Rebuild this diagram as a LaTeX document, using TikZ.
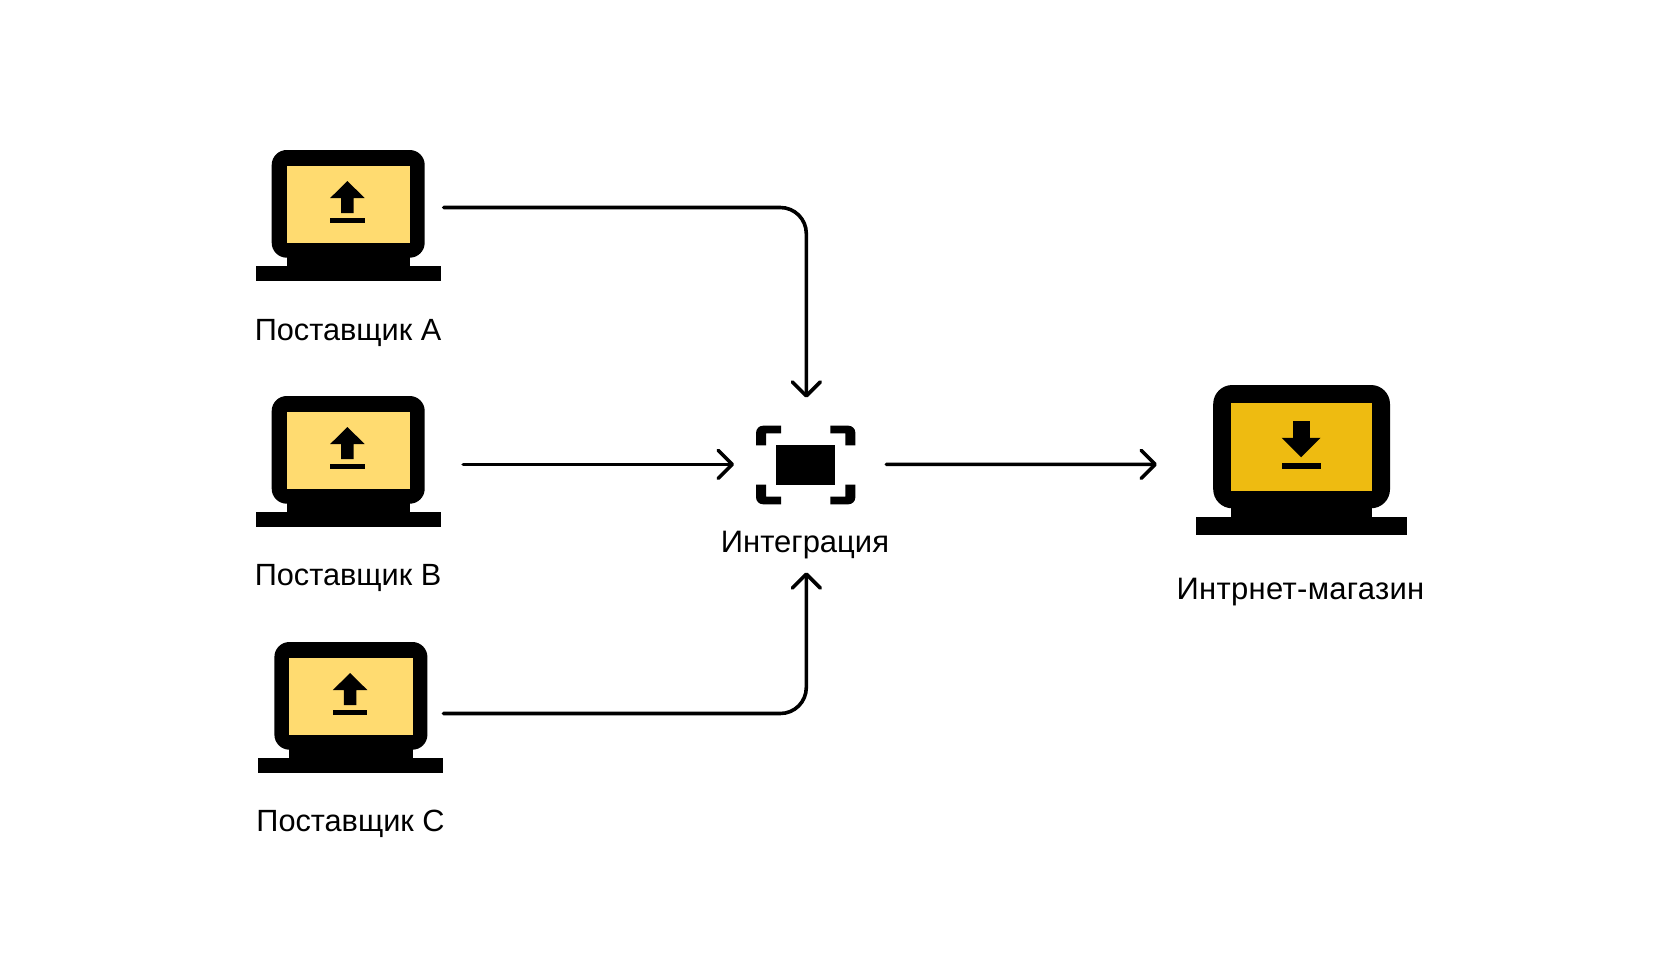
\documentclass[tikz,border=0pt]{standalone}
\usepackage{fontspec}
\setmainfont{Liberation Sans}
\usetikzlibrary{arrows.meta}
\definecolor{paleamber}{HTML}{FFDB70}
\definecolor{deepamber}{HTML}{EEBB11}
\tikzset{
  frameless/.style={inner sep=0pt,outer sep=0pt,draw=none},
  caption/.style={frameless,font=\fontsize{31}{36}\selectfont,text=black,anchor=center},
  smallcaption/.style={caption,font=\fontsize{30.7}{36}\selectfont},
  link/.style={line width=3.6pt,line cap=round,rounded corners=26pt,
    -{Straight Barb[length=14pt,width=28pt,line width=3.6pt,round]}},
  supplier/.pic={
    \fill[black,rounded corners=15pt] (-76.5,-65.5) rectangle (76.5,42.2);
    \fill[black] (-61.6,40) rectangle (61.6,52);
    \fill[black] (-92.5,50.2) rectangle (92.5,65.5);
    \fill[paleamber] (-61.6,-49.8) rectangle (61.6,27.2);
    \fill[black] (-0.8,-34.5) -- (16.4,-17.5) -- (5.5,-17.5) -- (5.5,-2.5)
      -- (-7.1,-2.5) -- (-7.1,-17.5) -- (-18,-17.5) -- cycle;
    \fill[black] (-18,2.2) rectangle (16.4,7.8);
  },
  shopfront/.pic={
    \fill[black,rounded corners=19pt] (-88.4,-74.85) rectangle (88.4,48.45);
    \fill[black] (-70.5,45) rectangle (70.5,60);
    \fill[black] (-105.6,57.15) rectangle (105.6,74.85);
    \fill[deepamber] (-70.5,-57.15) rectangle (70.5,30.85);
    \fill[black] (-9,-39.15) rectangle (8,-21.5);
    \fill[black] (-0.5,-2.55) -- (19,-22) -- (-20,-22) -- cycle;
    \fill[black] (-20,2.85) rectangle (19.4,9.15);
  },
  framecorner/.pic={
    % one bracket of the capture frame, opening towards the lower right
    \fill[black] (25,0) -- (7,0) .. controls (3.1,0) and (0,3.1) .. (0,7)
      -- (0,19.7) -- (10,19.7) -- (10,7.7) -- (25,7.7) -- cycle;
  },
}
\begin{document}
\begin{tikzpicture}[x=1pt,y=-1pt]
  \useasboundingbox (0,0) rectangle (1680,966);
  \fill[white] (0,0) rectangle (1680,966);

  % suppliers
  \node[frameless,minimum width=185pt,minimum height=131pt] (supA) at (348.2,215.5) {};
  \node[frameless,minimum width=185pt,minimum height=131pt] (supB) at (348.2,461.5) {};
  \node[frameless,minimum width=185pt,minimum height=131pt] (supC) at (350.9,707.5) {};
  \pic at (supA.center) {supplier};
  \pic at (supB.center) {supplier};
  \pic at (supC.center) {supplier};
  \node[smallcaption] (capA) at (348,332.5) {Поставщик А};
  \node[smallcaption] (capB) at (348,578) {Поставщик В};
  \node[smallcaption] (capC) at (350.5,824) {Поставщик С};

  % integration frame
  \node[frameless,minimum width=99.3pt,minimum height=78.6pt] (integ) at (805.7,465) {};
  \fill[black] (776,445.3) rectangle (835.3,484.7);
  \pic at (integ.north west) {framecorner};
  \pic[xscale=-1] at (integ.north east) {framecorner};
  \pic[yscale=-1] at (integ.south west) {framecorner};
  \pic[xscale=-1,yscale=-1] at (integ.south east) {framecorner};
  \node[caption] (capI) at (805,545.5) {Интеграция};

  % online shop
  \node[frameless,minimum width=211.2pt,minimum height=149.7pt] (shop) at (1301.6,459.85) {};
  \pic at (shop.center) {shopfront};
  \node[caption] (capS) at (1300.5,592.5) {\addfontfeature{LetterSpace=1}Интрнет-магазин};

  % connectors
  \draw[link] ([xshift=3pt,yshift=8pt]supA.east) -| ([yshift=28pt,xshift=0.6pt]integ.north);
  \draw[link] ([xshift=22.5pt,yshift=-2.9pt]supB.east) -- ([xshift=-22pt,yshift=0.6pt]integ.west);
  \draw[link] ([xshift=0pt,yshift=-6pt]supC.east) -| ([yshift=-68pt,xshift=0.6pt]integ.south);
  \draw[link] ([xshift=31pt,yshift=0.6pt]integ.east) -- ([xshift=-39pt,yshift=-4.55pt]shop.west);
\end{tikzpicture}
\end{document}
